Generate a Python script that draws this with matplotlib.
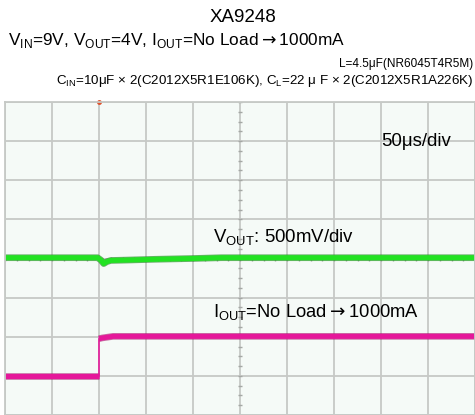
import matplotlib
matplotlib.use('Agg')
import matplotlib.pyplot as plt

plt.rcParams['font.family'] = ['Liberation Sans', 'DejaVu Sans']
plt.rcParams['mathtext.fontset'] = 'custom'
plt.rcParams['mathtext.rm'] = 'Liberation Sans'
plt.rcParams['mathtext.sf'] = 'DejaVu Sans'

# scope traces (x and y in divisions)
vout_x = [0, 1.97, 2.04, 2.1, 2.17, 2.25, 2.6, 3.2, 4.0, 4.6, 10]
vout_y = [4.02, 4.02, 3.96, 3.87, 3.92, 3.95, 3.96, 3.98, 4.0, 4.02, 4.02]

iout_x = [0, 2.0, 2.0, 2.07, 2.3, 10]
iout_y = [1.0, 1.0, 1.95, 1.97, 2.01, 2.01]

trigger_x = 2.0

title = 'XA9248'
cond_line = r'V$_{\rm IN}$=9V, V$_{\rm OUT}$=4V, I$_{\rm OUT}$=No Load$\mathsf{\rightarrow}$1000mA'
l_line = 'L=4.5μF(NR6045T4R5M)'
c_line = r'C$_{\rm IN}$=10μF × 2(C2012X5R1E106K), C$_{\rm L}$=22 μ F × 2(C2012X5R1A226K)'

W, H = 475, 415
fig = plt.figure(figsize=(W / 100, H / 100), dpi=100)

# screen: 10 div wide, top at 102px, cut off at the bottom of the image
ax = fig.add_axes([5 / W, 0, 470 / W, 1 - 102 / H])
ax.set_facecolor('#f5faf7')
ax.set_xlim(0, 10)
ax.set_ylim(8 - 313 / 39.7, 8)
ax.set_xticks(range(11))
ax.set_yticks(range(0, 9))
ax.tick_params(length=0, labelbottom=False, labelleft=False)
ax.grid(True, color='#c6c9c6', linewidth=1.3)
for s in ax.spines.values():
    s.set_color('#c6c9c6')
    s.set_linewidth(1.3)

# small sub-division marks on the centre lines
sub = [i / 4 for i in range(0, 33)]
ax.plot([5] * len(sub), sub, linestyle='none', marker='_', markersize=3,
        color='#a5a8a5', markeredgewidth=1)
subx = [i / 4 for i in range(0, 41)]
ax.plot(subx, [4] * len(subx), linestyle='none', marker='|', markersize=3,
        color='#a5a8a5', markeredgewidth=1)

# traces
ax.plot(vout_x, vout_y, color='#2f8f2f', linewidth=4.8, alpha=0.7, solid_capstyle='butt')
ax.plot(vout_x, vout_y, color='#22e222', linewidth=3.6, solid_capstyle='butt')

ax.plot(iout_x[:2], iout_y[:2], color='#a8126a', linewidth=4.8, alpha=0.6, solid_capstyle='butt')
ax.plot(iout_x[:2], iout_y[:2], color='#e5189a', linewidth=3.6, solid_capstyle='butt')
ax.plot(iout_x[1:3], iout_y[1:3], color='#e5189a', linewidth=1.2)
ax.plot(iout_x[2:], iout_y[2:], color='#a8126a', linewidth=4.8, alpha=0.6, solid_capstyle='butt')
ax.plot(iout_x[2:], iout_y[2:], color='#e5189a', linewidth=3.6, solid_capstyle='butt')

ax.plot([trigger_x], [8], marker='o', markersize=2.5, color='#e0502a', clip_on=False)

# labels on the screen
ax.text(381 / W, 1 - 146 / H, '50μs/div', transform=fig.transFigure, fontsize=13.4, va='baseline')
ax.text(213 / W, 1 - 243 / H, r'V$_{\rm OUT}$: 500mV/div', transform=fig.transFigure,
        fontsize=13.4, va='baseline')
ax.text(213 / W, 1 - 317 / H, r'I$_{\rm OUT}$=No Load$\mathsf{\rightarrow}$1000mA',
        transform=fig.transFigure, fontsize=13.2, va='baseline')

# header
fig.text(243 / W, 1 - 22 / H, title, fontsize=13.5, ha='center', va='baseline')
fig.text(8 / W, 1 - 45 / H, cond_line, fontsize=12.4, ha='left', va='baseline')
fig.text(473 / W, 1 - 67 / H, l_line, fontsize=8.5, ha='right', va='baseline')
fig.text(473 / W, 1 - 84 / H, c_line, fontsize=9.6, ha='right', va='baseline')

plt.savefig('out.png', dpi=100)
